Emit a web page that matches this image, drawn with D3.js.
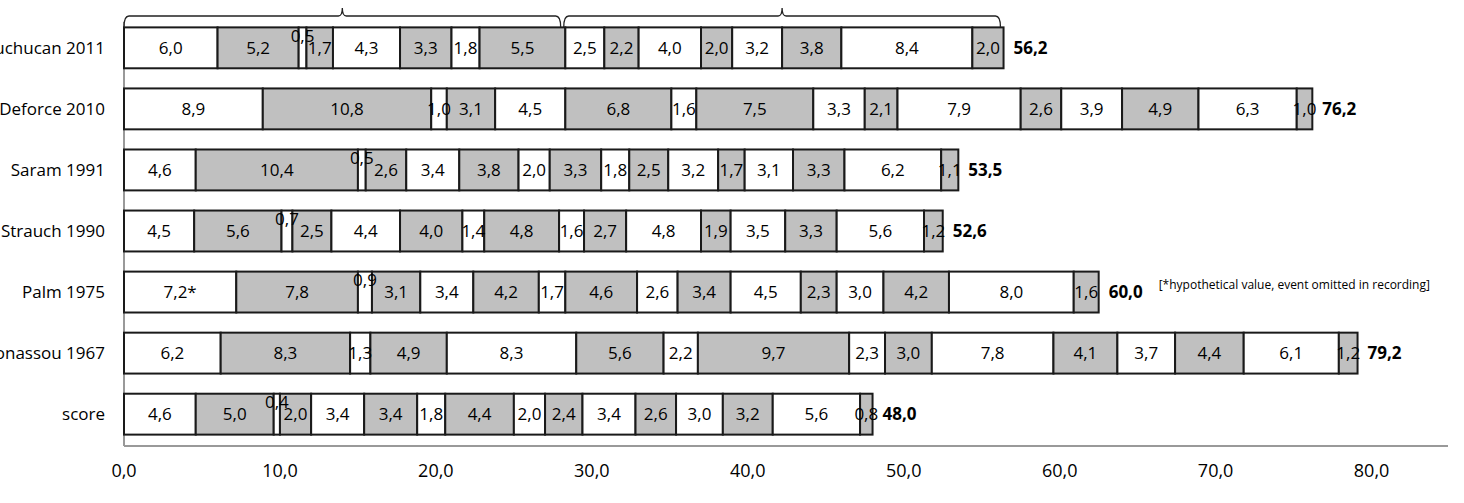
<!DOCTYPE html>
<html><head><meta charset="utf-8">
<script src="https://cdn.jsdelivr.net/npm/d3@7"></script>
<style>body{margin:0;background:#fff;overflow:hidden}svg{display:block}</style>
</head><body>
<script>
const categories = ["Chuchucan 2011","Deforce 2010","Saram 1991","Strauch 1990","Palm 1975","Bonassou 1967","score"];
const r2011 = [6.0,5.2,0.5,1.7,4.3,3.3,1.8,5.5,2.5,2.2,4.0,2.0,3.2,3.8,8.4,2.0];
const r2010 = [8.9,10.8,1.0,3.1,4.5,6.8,1.6,7.5,3.3,2.1,7.9,2.6,3.9,4.9,6.3,1.0];
const r1991 = [4.6,10.4,0.5,2.6,3.4,3.8,2.0,3.3,1.8,2.5,3.2,1.7,3.1,3.3,6.2,1.1];
const r1990 = [4.5,5.6,0.7,2.5,4.4,4.0,1.4,4.8,1.6,2.7,4.8,1.9,3.5,3.3,5.6,1.2];
const r1975 = [7.2,7.8,0.9,3.1,3.4,4.2,1.7,4.6,2.6,3.4,4.5,2.3,3.0,4.2,8.0,1.6];
const r1967 = [6.2,8.3,1.3,4.9,8.3,5.6,2.2,9.7,2.3,3.0,7.8,4.1,3.7,4.4,6.1,1.2];
const rScore = [4.6,5.0,0.4,2.0,3.4,3.4,1.8,4.4,2.0,2.4,3.4,2.6,3.0,3.2,5.6,0.8];
const totals = ["56,2","76,2","53,5","52,6","60,0","79,2","48,0"];
const xTicks = [0,10,20,30,40,50,60,70,80];
const brackets = [[0,28.0],[28.2,56.2]];
const footnote = "[*hypothetical value, event omitted in recording]";
const rows = [r2011,r2010,r1991,r1990,r1975,r1967,rScore];

const W=1464,H=503;
const font="'Liberation Sans Narrow','Open Sans',sans-serif";
const svg=d3.select("body").append("svg").attr("width",W).attr("height",H);
const x=d3.scaleLinear().domain([0,84.9]).range([124,1448]);
const y=d3.scaleBand().domain(categories).range([17,445]).paddingInner(0.33).paddingOuter(0.17);
const fmt=v=>v.toFixed(1).replace(".",",");

svg.append("line").attr("x1",x(0)).attr("x2",x(0)).attr("y1",22).attr("y2",446).attr("stroke","#999").attr("stroke-width",2);
svg.append("line").attr("x1",x(0)).attr("x2",1448).attr("y1",446).attr("y2",446).attr("stroke","#999").attr("stroke-width",2);
svg.selectAll(".xt").data(xTicks).join("text").attr("x",d=>x(d)).attr("y",477)
  .attr("text-anchor","middle").attr("font-family",font).attr("font-size",18).text(d=>fmt(d));

rows.forEach((vals,i)=>{
  const cat=categories[i];
  const y0=y(cat),h=y.bandwidth(),cy=y0+h/2;
  let acc=0;
  const segs=vals.map((v,j)=>{const s={v,j,x0:acc};acc+=v;return s;});
  const g=svg.append("g");
  g.selectAll("rect").data(segs).join("rect")
    .attr("x",d=>x(d.x0)).attr("y",y0).attr("width",d=>x(d.x0+d.v)-x(d.x0)).attr("height",h)
    .attr("fill",d=>d.j%2?"#c0c0c0":"#fff").attr("stroke","#1a1a1a").attr("stroke-width",2);
  g.selectAll("text.v").data(segs).join("text").attr("class","v")
    .attr("x",d=>x(d.x0+d.v/2)).attr("y",d=>d.v<1&&d.j<15?cy-6:cy+6)
    .attr("text-anchor","middle").attr("font-family",font).attr("font-size",17)
    .text(d=>fmt(d.v)+(i===4&&d.j===0?"*":""));
  svg.append("text").attr("x",x(acc)+10).attr("y",cy+6).attr("font-family",font)
    .attr("font-size",17).attr("font-weight","bold").text(totals[i]);
  svg.append("text").attr("x",105).attr("y",cy+6).attr("text-anchor","end")
    .attr("font-family",font).attr("font-size",17).text(cat);
  if(i===4) svg.append("text").attr("x",x(acc)+60).attr("y",cy-3).attr("font-family",font)
    .attr("font-size",12).text(footnote);
});

brackets.forEach(([a,b])=>{
  const x0=x(a),x1=x(b),m=(x0+x1)/2;
  svg.append("path").attr("d",`M${x0},27 Q${x0},16 ${x0+5},16 L${m-4},16 Q${m},16 ${m},8 Q${m},16 ${m+4},16 L${x1-5},16 Q${x1},16 ${x1},27`)
    .attr("fill","none").attr("stroke","#222").attr("stroke-width",1.3);
});
</script>
</body></html>
